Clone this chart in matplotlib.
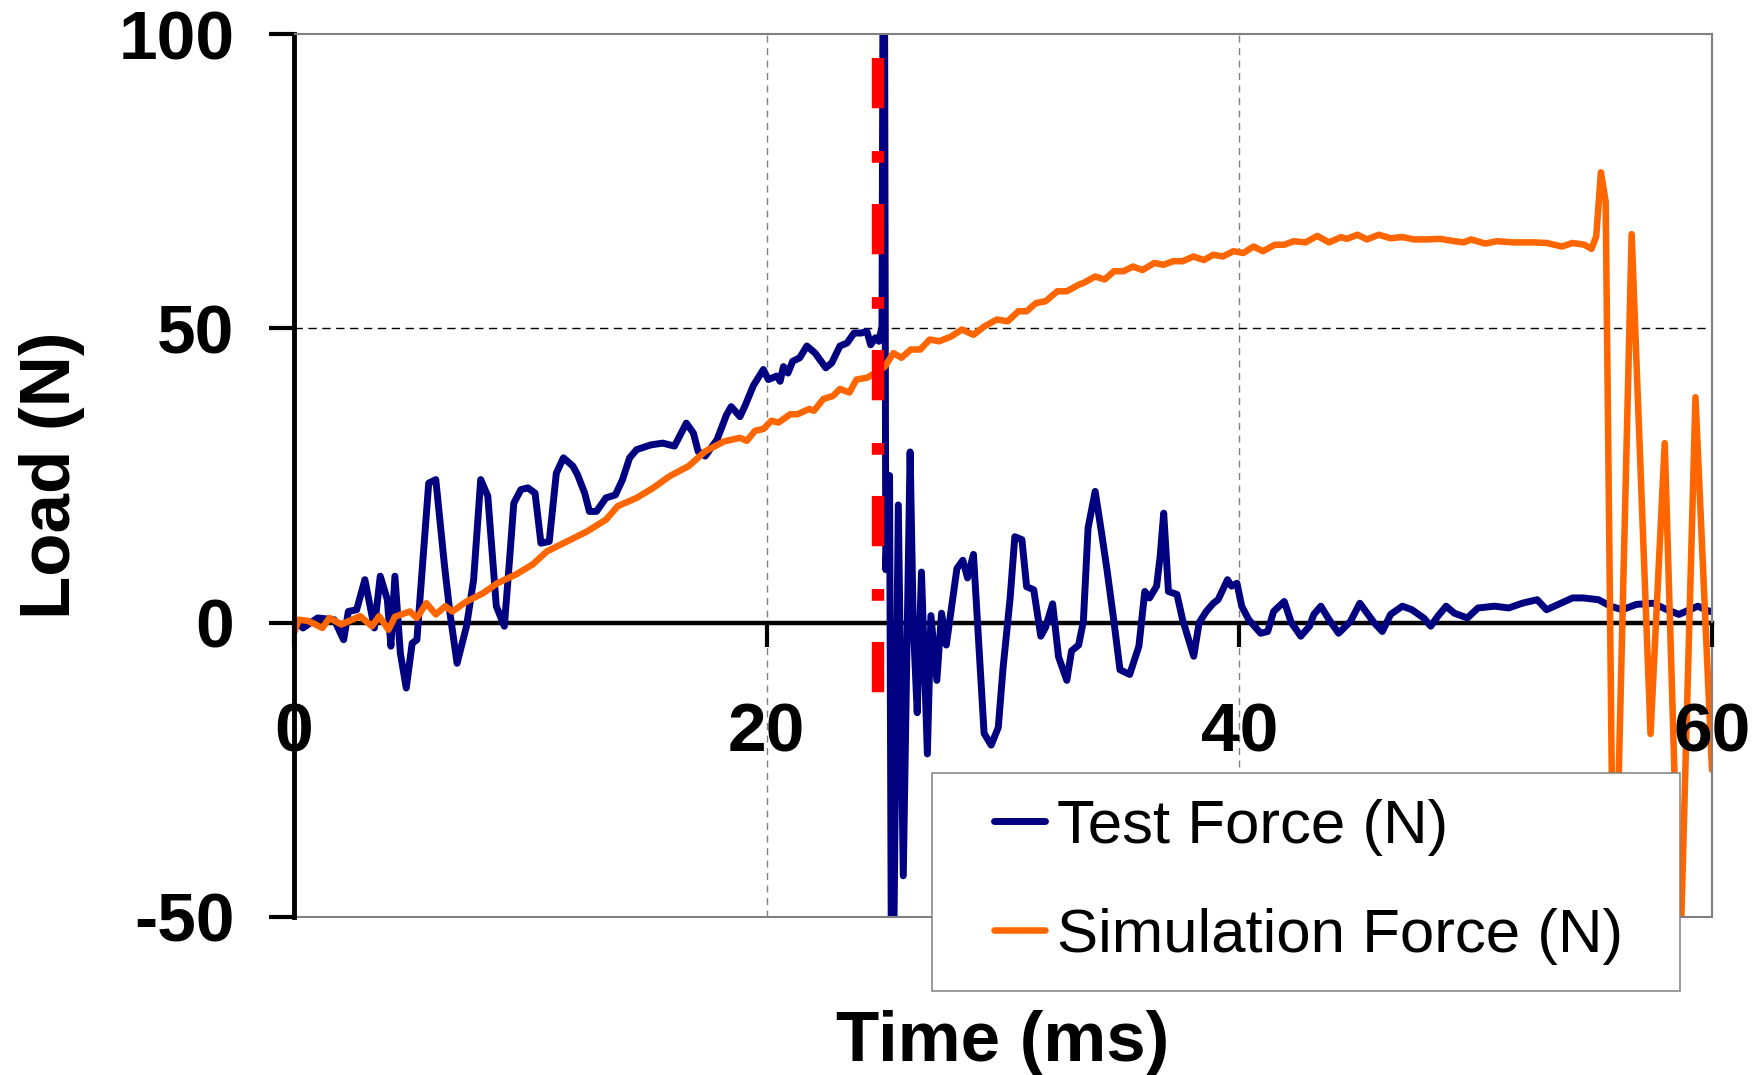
import matplotlib
matplotlib.use("Agg")
import matplotlib.pyplot as plt
from matplotlib.lines import Line2D
from matplotlib.legend_handler import HandlerLine2D

plt.rcParams["font.family"] = ["Liberation Sans", "DejaVu Sans"]
plt.rcParams["axes.unicode_minus"] = False

# --- data ---
test_t = [0.0, 0.38, 1.0, 1.7, 2.1, 2.3, 2.65, 3.0, 3.4, 3.65, 3.95, 4.1, 4.27, 4.5, 4.75,
          5.0, 5.2, 5.7, 6.0, 6.37, 6.6, 6.9, 7.3, 7.6, 7.9, 8.2, 8.56, 8.9, 9.1, 9.3,
          9.6, 9.9, 10.2, 10.45, 10.8, 11.1, 11.4, 11.8, 12.0, 12.3, 12.5, 12.8, 13.2, 13.6,
          13.9, 14.2, 14.5, 15.1, 15.6, 16.1, 16.6, 16.9, 17.1, 17.4, 17.9, 18.3, 18.5,
          18.87, 19.08, 19.44, 19.86, 20.07, 20.43, 20.57, 20.71, 20.9, 21.1, 21.4, 21.7,
          22.05, 22.5, 22.75, 23.1, 23.4, 23.7, 24.0, 24.24, 24.4, 24.6, 24.75, 24.88,
          24.96, 25.04, 25.2, 25.3, 25.57, 25.78, 26.07, 26.2, 26.37, 26.55, 26.8, 26.95,
          27.2, 27.4, 27.6, 27.8, 28.05, 28.3, 28.5, 28.75, 28.95, 29.2, 29.5, 29.8, 30.0,
          30.3, 30.5, 30.8, 31.0, 31.3, 31.6, 31.8, 32.1, 32.35, 32.7, 32.9, 33.2, 33.4,
          33.6, 33.9, 34.15, 34.4, 34.7, 34.95, 35.36, 35.75, 36.0, 36.2, 36.5, 36.65, 36.8,
          37.0, 37.36, 37.6, 38.07, 38.3, 38.6, 38.9, 39.1, 39.5, 39.67, 39.9, 40.1, 40.4,
          40.9, 41.2, 41.45, 41.9, 42.2, 42.6, 42.97, 43.15, 43.45, 43.8, 44.2, 44.7, 45.1,
          45.5, 45.7, 46.05, 46.4, 46.9, 47.3, 47.8, 48.1, 48.4, 48.75, 49.1, 49.65, 50.1,
          50.8, 51.4, 51.97, 52.6, 53.0, 53.6, 54.1, 54.55, 55.2, 55.7, 56.2, 56.8, 57.5,
          58.1, 58.6, 59.4, 59.9, 60.0]
test_f = [0.5, -0.9, 0.8, 0.5, -2.9, 1.9, 2.2, 7.3, -0.9, 7.9, 3.9, -4.0, 7.9, -5.2, -11.1,
          -3.5, -2.9, 23.7, 24.3, 9.6, 1.6, -6.9, -0.6, 7.3, 24.3, 21.5, 2.8, -0.6, 9.6, 20.3,
          22.6, 22.9, 22.0, 13.5, 13.8, 25.4, 28.0, 26.6, 25.1, 22.0, 18.9, 18.9, 21.2, 21.7,
          24.3, 28.0, 29.4, 30.2, 30.5, 30.0, 33.9, 32.2, 29.1, 28.3, 31.1, 35.3, 36.7,
          35.0, 36.8, 40.3, 43.0, 41.3, 41.9, 41.0, 43.5, 42.4, 44.4, 45.0, 47.0,
          45.8, 43.3, 44.1, 47.0, 47.5, 49.2, 49.2, 49.5, 47.2, 48.4, 47.8, 50.3,
          160.0, 9.0, 25.0, -85.0, 20.0, -43.0, 29.0, 0.2, -15.3, 8.6, -22.3, 1.2,
          -9.8, 1.6, -3.8, 2.0, 9.2, 10.6, 7.6, 11.6, -1.8, -18.8, -20.8, -17.8, -7.8,
          4.1, 14.6, 14.1, 6.1, 5.6, -2.3, -0.8, 3.2, -5.8, -9.8, -4.8, -3.8, 0.2,
          16.1, 22.3, 15.8, 9.0, 0.0, -8.0, -8.8, -4.0, 5.3, 4.2, 6.2, 11.3, 18.6,
          5.3, 4.8, 0.5, -5.7, 0.0, 1.9, 3.3, 3.9, 7.3, 6.2, 6.7, 2.8, 0.5,
          -1.8, -1.5, 1.9, 3.6, 0.0, -2.3, -0.6, 1.4, 2.8, 0.5, -1.8, 0.2, 3.3,
          1.1, 0.0, -1.5, 1.4, 2.8, 2.2, 0.8, -0.6, 1.1, 2.8, 1.6, 0.8, 2.5,
          2.8, 2.5, 3.3, 3.9, 2.2, 3.3, 4.2, 4.2, 3.9, 2.8, 2.2, 3.1, 3.3,
          2.2, 1.4, 2.8, 1.9, 2.0]

sim_t = [0.0, 0.2, 0.6, 1.2, 1.5, 2.0, 2.8, 3.3, 3.6, 4.0, 4.27, 4.9, 5.2, 5.6, 6.0, 6.4,
         6.7, 7.3, 8.0, 8.6, 9.4, 10.1, 10.7, 11.7, 12.4, 13.2, 13.7, 14.5, 15.2, 15.9,
         16.7, 17.4, 18.2, 18.87, 19.16, 19.51, 19.86, 20.2, 20.5, 21.0, 21.3, 21.8, 22.0,
         22.4, 22.8, 23.1, 23.5, 23.8, 24.24, 24.5, 25.0, 25.36, 25.7, 26.1, 26.5, 26.9,
         27.3, 27.8, 28.26, 28.75, 29.2, 29.74, 30.2, 30.65, 31.0, 31.4, 31.8, 32.3, 32.7,
         33.2, 33.4, 33.9, 34.3, 34.7, 35.1, 35.5, 35.9, 36.4, 36.8, 37.2, 37.6, 38.06,
         38.5, 38.9, 39.3, 39.75, 40.17, 40.6, 41.0, 41.5, 41.9, 42.3, 42.8, 43.3, 43.8,
         44.3, 44.55, 45.0, 45.4, 45.9, 46.4, 46.9, 47.4, 47.9, 48.5, 49.1, 49.5, 49.8,
         50.4, 50.9, 51.6, 52.45, 53.0, 53.65, 54.1, 54.6, 54.9, 55.1, 55.3, 55.5, 55.85,
         56.6, 57.4, 58.0, 58.65, 59.3, 60.0]
sim_f = [-1.8, 0.5, 0.3, -0.9, 0.8, -0.3, 1.1, -0.6, 1.1, -1.2, 1.0, 1.9, 0.8, 3.3, 1.4, 2.8,
         1.9, 3.6, 5.0, 6.7, 8.2, 9.9, 12.1, 14.1, 15.5, 17.5, 19.8, 21.2, 22.9, 24.9,
         26.6, 29.1, 30.8, 31.4, 30.9, 32.6, 32.9, 34.3, 34.0, 35.4, 35.4, 36.3, 36.0,
         38.0, 38.5, 39.7, 39.1, 41.3, 41.6, 42.2, 43.5, 45.8, 45.0, 46.4, 46.4, 48.1,
         47.8, 48.6, 49.8, 48.9, 50.3, 51.5, 51.2, 52.9, 52.9, 54.3, 54.6, 56.3, 56.3,
         57.4, 57.7, 58.8, 58.3, 59.7, 59.7, 60.5, 59.9, 61.1, 60.8, 61.4, 61.4, 62.2,
         61.6, 62.5, 62.2, 63.1, 62.8, 63.9, 63.1, 64.2, 64.2, 64.8, 64.6, 65.7, 64.6,
         65.5, 65.2, 65.9, 65.1, 65.9, 65.3, 65.5, 65.1, 65.1, 65.2, 64.8, 64.6, 65.1,
         64.4, 64.8, 64.6, 64.6, 64.5, 63.9, 64.5, 64.2, 63.5, 65.6, 76.5, 71.6, -60.0,
         66.0, -18.9, 30.5, -58.0, 38.3, -25.0]

onset_t = 24.7            # red dash-dot marker line
onset_span = (96, -13)    # top, bottom

x_ticks = [0, 20, 40, 60]
y_ticks = [-50, 0, 50, 100]
x_lim = (0, 60)
y_lim = (-50, 100)
labels = ["Test Force (N)", "Simulation Force (N)"]

NAVY = "#000080"
ORANGE = "#FF6600"
GRAY = "#808080"

fig = plt.figure(figsize=(17.6, 10.75), dpi=100)
ax = fig.add_axes([294 / 1760, 1 - 917 / 1075, 1418 / 1760, 883 / 1075])

# frame: black left axis and zero line, gray elsewhere (set before tick labels,
# moving a spine resets the ticks)
ax.spines["bottom"].set_position(("data", 0))
ax.spines["bottom"].set_linewidth(3.2)
ax.spines["bottom"].set_zorder(1.8)
ax.spines["left"].set_linewidth(3.5)
for s in ("top", "right"):
    ax.spines[s].set_color(GRAY)
    ax.spines[s].set_linewidth(1.5)

# grid only at inner ticks
for t in x_ticks[1:-1]:
    ax.axvline(t, color=GRAY, lw=1.0, ls=(0, (5, 4)), zorder=1)
for v in y_ticks:
    if v not in (0, y_lim[0], y_lim[1]):
        ax.axhline(v, color="black", lw=1.0, ls=(0, (6, 4)), zorder=1)

l_test, = ax.plot(test_t, test_f, color=NAVY, lw=5.0, zorder=2.1,
                  solid_joinstyle="round", solid_capstyle="round", label=labels[0])
l_sim, = ax.plot(sim_t, sim_f, color=ORANGE, lw=4.7, zorder=2.2,
                 solid_joinstyle="round", solid_capstyle="round", label=labels[1])
ax.plot([onset_t, onset_t], list(onset_span), color="red", lw=8.9,
        dashes=(4.07, 3.46, 0.95, 3.33), dash_capstyle="butt", zorder=3)

ax.set_xlim(*x_lim)
ax.set_ylim(*y_lim)
ax.set_xticks(x_ticks)
ax.set_yticks(y_ticks)
ax.set_xticklabels([str(v) for v in x_ticks], fontweight="bold")
ax.set_yticklabels([str(v) for v in y_ticks], fontweight="bold")
ax.axhline(y_lim[0], color=GRAY, lw=1.5, clip_on=False, zorder=2.5)

ax.tick_params(axis="x", direction="out", length=17, width=3, pad=40, labelsize=50)
ax.tick_params(axis="y", direction="out", length=18, width=3, pad=25, labelsize=50)
ax.xaxis.set_zorder(3.5)
ax.yaxis.set_zorder(3.5)

fig.text(1003 / 1760, 1 - 1061 / 1075, "Time (ms)", fontsize=51, fontweight="bold",
         ha="center", va="baseline")
fig.text(70 / 1760, 1 - 475 / 1075, "Load (N)", fontsize=51, fontweight="bold",
         rotation=90, rotation_mode="anchor", ha="center", va="baseline")

leg = ax.legend(handles=[l_test, l_sim], loc="upper left",
                bbox_to_anchor=(932 / 1760, 1 - 984 / 1075, 748 / 1760, 211 / 1075),
                bbox_transform=fig.transFigure, mode="expand", borderaxespad=0,
                fontsize=44.5, handlelength=1.41, handletextpad=0.2, borderpad=0.42,
                labelspacing=0.84, fancybox=False, framealpha=1,
                handler_map={Line2D: HandlerLine2D(xpad=0.58)})
leg.get_frame().set_edgecolor(GRAY)
leg.get_frame().set_linewidth(1.1)
leg.set_zorder(6)

fig.savefig("out.png", dpi=100)
plt.close(fig)
